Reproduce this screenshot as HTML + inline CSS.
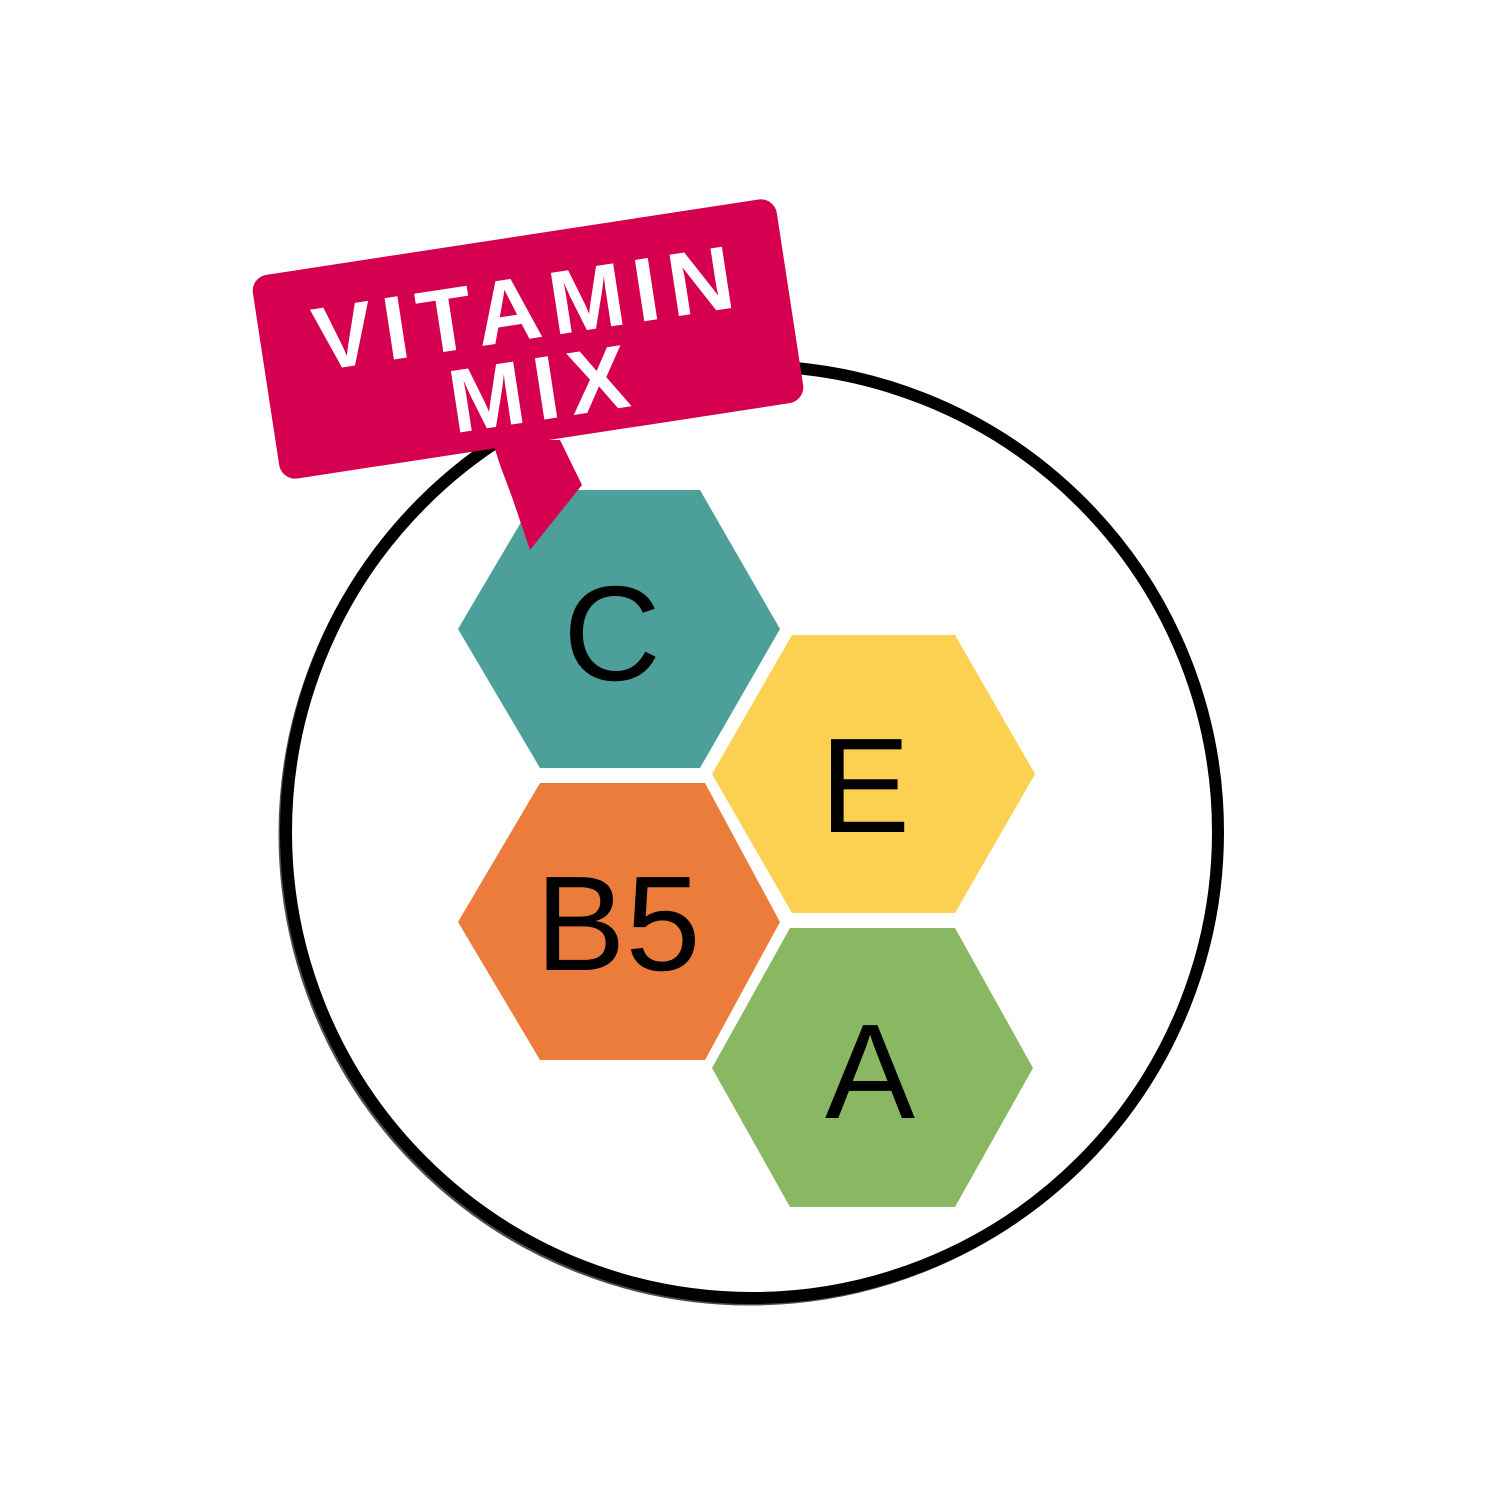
<!DOCTYPE html>
<html><head><meta charset="utf-8"><style>html,body{margin:0;padding:0;background:#fff}svg{display:block}</style></head>
<body>
<svg width="1500" height="1500" viewBox="0 0 1500 1500" xmlns="http://www.w3.org/2000/svg">
<rect width="1500" height="1500" fill="#fff"/>
<circle cx="752" cy="832" r="466" fill="none" stroke="#000" stroke-width="12"/>
<circle cx="750" cy="834" r="470" fill="none" stroke="#000" stroke-width="3" opacity="0.7"/>
<polygon points="540,490 700,490 780,629 700,768 540,768 458,629" fill="#4da099"/>
<polygon points="792,635 955,635 1035,774 955,913 792,913 712,774" fill="#fcd152"/>
<polygon points="540,783 705,783 780,922 705,1060 540,1060 458,922" fill="#ec7c3b"/>
<polygon points="790,928 955,928 1033,1068 955,1207 790,1207 712,1068" fill="#8ab862"/>
<g font-family="Liberation Sans, sans-serif" fill="#000" text-anchor="middle" font-size="135">
<text x="612" y="680">C</text>
<text x="865" y="832">E</text>
<text x="618" y="970">B5</text>
<text x="870" y="1118">A</text>
</g>
<polygon points="492,440 500,465 512,497 530,550 582,485 560,440" fill="#d5004f"/>
<g transform="translate(528,339) rotate(-8.7)">
<rect x="-265" y="-103" width="530" height="206" rx="16" fill="#d5004f"/>
<g font-family="Liberation Sans, sans-serif" font-weight="bold" fill="#fff" text-anchor="middle" font-size="90" letter-spacing="10">
<text x="5" y="0">VITAMIN</text>
<text x="8" y="82">MIX</text>
</g>
</g>
</svg>
</body></html>
